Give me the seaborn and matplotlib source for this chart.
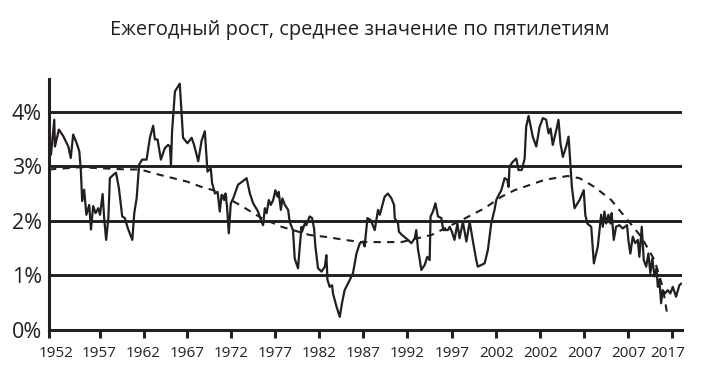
import matplotlib
matplotlib.use("Agg")
import matplotlib.pyplot as plt
import matplotlib.transforms as mtransforms
import seaborn as sns
import pandas as pd

# ---- data (x = quarter index from start of series) ----
growth_q = [0.9, 2.4, 2.7, 4.5, 6.5, 8.8, 9.9, 11.0, 12.6, 13.8, 14.5, 15.1, 16.0, 17.0, 18.3, 19.1,
            20.1, 21.2, 22.4, 23.2, 24.4, 25.1, 26.0, 27.0, 27.7, 29.2, 30.5, 31.8, 33.3, 34.5, 35.8,
            37.9, 38.8, 39.9, 41.0, 42.4, 44.4, 45.9, 47.4, 48.2, 49.4, 50.9, 52.7, 54.2, 55.0, 55.5,
            56.0, 57.3, 59.5, 61.0, 63.0, 64.9, 66.0, 67.9, 69.4, 70.9, 72.1, 73.6, 74.2, 75.5, 76.7,
            77.7, 78.5, 79.7, 80.3, 81.0, 81.8, 82.7, 83.8, 86.0, 88.0, 89.9, 91.4, 92.9, 95.1, 96.7,
            97.4, 98.2, 99.0, 100.0, 100.9, 102.0, 103.0, 103.95, 104.5, 105.5, 106.2, 107.3, 108.8,
            109.5, 111.0, 111.8, 113.3, 114.1, 114.9, 115.1, 116.4, 117.1, 118.6, 119.7, 120.6, 121.2,
            122.4, 124.0, 125.5, 126.2, 126.7, 127.7, 128.8, 129.2, 130.8, 132.3, 133.3, 134.5, 136.4,
            138.3, 139.9, 141.4, 142.9, 143.6, 144.9, 146.4, 148.2, 149.7, 150.5, 151.5, 152.7, 154.2,
            155.8, 157.0, 157.3, 158.8, 159.2, 160.6, 163.3, 164.9, 166.4, 167.1, 167.9, 168.6, 169.4,
            170.9, 172.1, 173.2, 173.6, 174.7, 175.8, 177.0, 178.5, 179.4, 181.5, 182.3, 183.3, 184.5,
            185.8, 186.8, 188.3, 189.9, 191.4, 192.9, 194.4, 195.1, 198.2, 199.7, 201.2, 202.7, 203.5,
            204.2, 205.8, 207.3, 208.5, 209.1, 209.5, 211.0, 212.6, 213.6, 215.1, 216.4, 217.1, 218.2,
            220.1, 221.7, 223.2, 224.7, 226.2, 227.3, 228.2, 229.2, 230.8, 231.8, 232.7, 233.8, 235.3,
            236.4, 237.3, 237.9, 239.1, 241.4, 243.3, 244.0, 244.9, 246.7, 247.9, 249.7, 251.2, 252.0,
            252.7, 253.5, 254.5, 255.5, 256.0, 256.95, 258.0, 259.5, 261.0, 263.0, 263.6, 264.5, 265.6,
            266.7, 267.9, 268.6, 269.7, 270.6, 271.7, 272.7, 273.6, 274.5, 275.5, 276.4, 277.0, 277.7,
            278.5, 279.2, 280.3, 281.5, 282.7, 283.8, 285.3, 286.8, 287.6]
growth_val = [3.21, 3.85, 3.36, 3.67, 3.55, 3.36, 3.15, 3.58, 3.42, 3.27, 2.91, 2.36, 2.57, 2.11, 2.29, 1.84,
              2.27, 2.14, 2.23, 2.11, 2.49, 2.05, 1.65, 2.05, 2.78, 2.84, 2.88, 2.60, 2.08, 2.05, 1.87,
              1.65, 2.14, 2.42, 3.03, 3.12, 3.12, 3.52, 3.74, 3.49, 3.49, 3.12, 3.33, 3.39, 3.36, 3.03,
              3.64, 4.37, 4.51, 3.52, 3.42, 3.52, 3.39, 3.09, 3.46, 3.64, 2.90, 2.96, 2.69, 2.50, 2.53,
              2.17, 2.47, 2.38, 2.50, 2.26, 1.77, 2.32, 2.41, 2.66, 2.72, 2.78, 2.50, 2.32, 2.17, 1.98,
              1.92, 2.23, 2.14, 2.38, 2.29, 2.38, 2.56, 2.44, 2.53, 2.20, 2.41, 2.29, 2.20,
              1.98, 1.83, 1.31, 1.13, 1.53, 1.89, 1.80, 1.95, 1.92, 2.08, 2.05, 1.86, 1.53,
              1.13, 1.07, 1.16, 1.37, 0.92, 0.79, 0.82, 0.67, 0.43, 0.24, 0.49, 0.73, 0.88,
              1.04, 1.40, 1.59, 1.62, 1.53, 2.05, 2.01, 1.83, 2.20, 2.11, 2.26, 2.44, 2.50,
              2.41, 2.29, 2.05, 1.95, 1.80, 1.74, 1.65, 1.59, 1.68, 1.83, 1.47, 1.31, 1.10,
              1.19, 1.34, 1.28, 2.08, 2.17, 2.32, 2.08, 2.05, 1.83, 1.83, 1.89, 1.80, 1.65,
              1.95, 1.68, 1.98, 1.62, 1.98, 1.62, 1.28, 1.16, 1.22, 1.47, 1.95, 2.20, 2.38,
              2.44, 2.56, 2.78, 2.75, 2.62, 2.99, 3.08, 3.14, 2.93, 2.93, 3.14, 3.72, 3.92,
              3.54, 3.36, 3.72, 3.88, 3.85, 3.60, 3.69, 3.39, 3.66, 3.85, 3.42, 3.17, 3.36,
              3.54, 2.99, 2.62, 2.23, 2.38, 2.56, 2.11, 1.95, 1.89, 1.22, 1.53, 2.11, 1.89,
              2.17, 1.95, 2.11, 1.95, 2.14, 1.65, 1.89, 1.92, 1.86, 1.92, 1.65, 1.40, 1.71,
              1.59, 1.65, 1.34, 1.89, 1.28, 1.16, 1.40, 1.04, 1.31, 0.98, 1.13, 0.79, 0.92,
              0.49, 0.73, 0.67, 0.73, 0.67, 0.79, 0.61, 0.82, 0.85]

trend_q = [0.0, 14.1, 35.3, 41.4, 50.5, 62.6, 69.4, 74.7, 86.8, 96.7, 105.8, 118.6, 127.0, 134.5,
           142.1, 160.3, 174.0, 187.6, 198.2, 205.8, 211.8, 225.5, 236.0, 241.4, 248.2, 255.8,
           263.3, 269.4, 275.5, 279.2, 281.5]
trend_val = [2.94, 2.98, 2.94, 2.94, 2.84, 2.72, 2.62, 2.56, 2.29, 2.05, 1.89, 1.74, 1.70, 1.65,
             1.61, 1.61, 1.74, 2.01, 2.23, 2.44, 2.56, 2.75, 2.82, 2.78, 2.62, 2.38,
             2.01, 1.71, 1.28, 0.79, 0.24]

x_tick_labels = ["1952", "1957", "1962", "1967", "1972", "1977", "1982", "1987", "1992",
                 "1997", "2002", "2002", "2007", "2007", "2017"]
x_tick_pos = [0, 23, 43, 63, 83, 103, 123, 143, 163, 183.5, 203.5, 223.5, 243.5, 263.5, 283.5]
y_ticks = [0, 1, 2, 3, 4]
y_tick_labels = ["0%", "1%", "2%", "3%", "4%"]
title = "Ежегодный рост, среднее значение по пятилетиям"

df_g = pd.DataFrame({"q": growth_q, "val": growth_val})
df_t = pd.DataFrame({"q": trend_q, "val": trend_val})

sns.set_theme(style="white")
plt.rcParams["font.family"] = ["Open Sans", "DejaVu Sans"]
ink = "#231f20"

W, H = 702, 382
fig = plt.figure(figsize=(W / 100, H / 100), dpi=100)
left, right, bottom, top = 49, 682, 330, 78.8
ax = fig.add_axes([left / W, 1 - bottom / H, (right - left) / W, (bottom - top) / H])

for yv in y_ticks[1:]:
    ax.axhline(yv, color=ink, lw=2.1, zorder=1)

sns.lineplot(data=df_t, x="q", y="val", ax=ax, color=ink, lw=1.5, sort=False,
             estimator=None, zorder=2)
ax.lines[-1].set_dashes([3.5, 3])
sns.lineplot(data=df_g, x="q", y="val", ax=ax, color=ink, lw=1.6, sort=False,
             estimator=None, zorder=3)

ax.set_xlim(0, 288)
ax.set_ylim(0, 4.6)
ax.set_xlabel("")
ax.set_ylabel("")
ax.set_xticks(x_tick_pos)
ax.set_xticklabels(x_tick_labels, fontsize=11, color=ink)
ax.set_yticks(y_ticks)
ax.set_yticklabels(y_tick_labels, fontsize=15.5, color=ink)
ax.tick_params(axis="x", length=6, width=2.2, color=ink, pad=5.5, direction="out", bottom=True)
ax.tick_params(axis="y", length=0, pad=5)
for s in ["top", "right"]:
    ax.spines[s].set_visible(False)
for s in ["left", "bottom"]:
    ax.spines[s].set_color(ink)
    ax.spines[s].set_linewidth(2.2)

# first and last x labels sit slightly inward, as in the original
xlabels = ax.get_xticklabels()
xlabels[0].set_transform(xlabels[0].get_transform() +
                         mtransforms.ScaledTranslation(7 / 100, 0, fig.dpi_scale_trans))
xlabels[-1].set_transform(xlabels[-1].get_transform() +
                          mtransforms.ScaledTranslation(-4 / 100, 0, fig.dpi_scale_trans))

fig.text(360 / W, 1 - 30 / H, title, ha="center", va="center", fontsize=14.4, color=ink)

fig.savefig("out.png", dpi=100)
